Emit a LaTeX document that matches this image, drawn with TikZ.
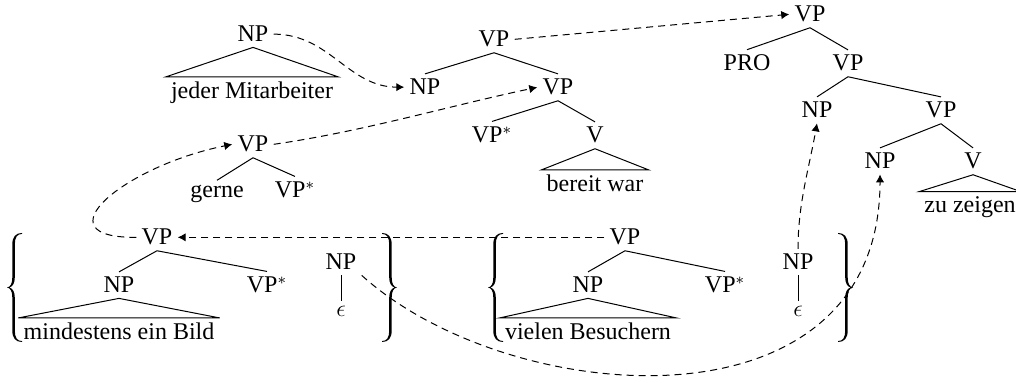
\documentclass[tikz,border=0pt]{standalone}
\usepackage{fontspec}
\setmainfont{Liberation Serif}
\usetikzlibrary{arrows.meta}
\begin{document}
\begin{tikzpicture}[x=0.5pt,y=-0.5pt,
  t/.style={anchor=base, inner sep=2.5pt, font=\fontsize{12}{14}\selectfont},
  tl/.style={line width=0.5pt},
  mv/.style={line width=0.5pt, dash pattern=on 3.5pt off 2.5pt, -{Latex[length=4pt,width=4.2pt]}},
  brc/.pic={\fill
    (7.5,-54.5) .. controls (1.5,-54.5) and (-2.2,-51) .. (-2.2,-43)
    -- (-2.2,-10) .. controls (-2.2,-3) and (-4.5,-0.5) .. (-7.5,0)
    .. controls (-4.5,0.5) and (-2.2,3) .. (-2.2,10)
    -- (-2.2,43) .. controls (-2.2,51) and (1.5,54.5) .. (7.5,54.5)
    -- (7.5,53.6) .. controls (2.5,53.6) and (0.3,50) .. (0.3,43)
    -- (0.3,10) .. controls (0.3,4) and (-2,1) .. (-5,0)
    .. controls (-2,-1) and (0.3,-4) .. (0.3,-10)
    -- (0.3,-43) .. controls (0.3,-50) and (2.5,-53.6) .. (7.5,-53.6) -- cycle;}]
\useasboundingbox (0,0) rectangle (1016,383);

% top-left NP
\node[t] (npA) at (253,42) {NP};
\node[t] (jeder) at (252,99) {jeder Mitarbeiter};
\draw[tl] (npA.south) -- (jeder.north east) -- (jeder.north west) -- cycle;

% middle tree
\node[t] (vpB) at (494,47) {VP};
\node[t] (npB) at (425,95) {NP};
\node[t] (vpC) at (558,95) {VP};
\node[t] (vpsC) at (492,143) {VP$^*$};
\node[t] (vC) at (595,143) {V};
\node[t] (bereit) at (595,192) {bereit war};
\draw[tl] (vpB.south) -- (npB.north);
\draw[tl] (vpB.south) -- (vpC.north);
\draw[tl] (vpC.south) -- (vpsC.north);
\draw[tl] (vpC.south) -- (vC.north);
\draw[tl] (vC.south) -- (bereit.north east) -- (bereit.north west) -- cycle;

% right tree
\node[t] (vpR) at (810,22) {VP};
\node[t] (pro) at (747,71) {PRO};
\node[t] (vpR2) at (848,71) {VP};
\node[t] (npR) at (817,118) {NP};
\node[t] (vpR3) at (941,118) {VP};
\node[t] (npR2) at (880,169) {NP};
\node[t] (vR) at (973,169) {V};
\node[t] (zu) at (970,213) {zu zeigen};
\draw[tl] (vpR.south) -- (pro.north);
\draw[tl] (vpR.south) -- (vpR2.north);
\draw[tl] (vpR2.south) -- (npR.north);
\draw[tl] (vpR2.south) -- (vpR3.north);
\draw[tl] (vpR3.south) -- (npR2.north);
\draw[tl] (vpR3.south) -- (vR.north);
\draw[tl] (vR.south) -- (zu.north east) -- (zu.north west) -- cycle;

% gerne tree
\node[t] (vpG) at (253,152) {VP};
\node[t] (gerne) at (217,198) {gerne};
\node[t] (vpsG) at (295,198) {VP$^*$};
\draw[tl] (vpG.south) -- (gerne.north);
\draw[tl] (vpG.south) -- (vpsG.north);

% bottom-left group
\pic at (14.5,287.5) {brc};
\pic[xscale=-1] at (389.5,287.5) {brc};
\node[t] (vpL) at (157,245) {VP};
\node[t] (npL) at (119,293) {NP};
\node[t] (vpsL) at (267,293) {VP$^*$};
\node[t] (mind) at (119,340) {mindestens ein Bild};
\draw[tl] (vpL.south) -- (npL.north);
\draw[tl] (vpL.south) -- (vpsL.north);
\draw[tl] (npL.south) -- (mind.north east) -- (mind.north west) -- cycle;
\node[t] (npE) at (341,270) {NP};
\node[t] (eps) at (341,317) {$\epsilon$};
\draw[tl] (npE.south) -- (eps.north);

% bottom-middle group
\pic at (495.5,287.5) {brc};
\pic[xscale=-1] at (845.5,287.5) {brc};
\node[t] (vpM) at (625,245) {VP};
\node[t] (npM) at (588,293) {NP};
\node[t] (vpsM) at (725,293) {VP$^*$};
\node[t] (viel) at (588,340) {vielen Besuchern};
\draw[tl] (vpM.south) -- (npM.north);
\draw[tl] (vpM.south) -- (vpsM.north);
\draw[tl] (npM.south) -- (viel.north east) -- (viel.north west) -- cycle;
\node[t] (npE2) at (798,270) {NP};
\node[t] (eps2) at (798,317) {$\epsilon$};
\draw[tl] (npE2.south) -- (eps2.north);

% dashed movement arrows
\draw[mv] (npA.east) .. controls +(56,0) and +(-56,0) .. (npB.west);
\draw[mv] (vpB.east) -- (vpR.west);
\draw[mv] (vpG.east) .. controls +(90,-13) and +(-90,19) .. (vpC.west);
\draw[mv] (vpM.west) -- (vpL.east);
\draw[mv] (vpL.west) .. controls +(-98,1) and +(-109,22) .. (vpG.west);
\draw[mv] (npE.south east) .. controls +(147,133) and +(0,264) .. (npR2.south);
\draw[mv] (npE2.north) .. controls +(0,-45) and +(-8,45) .. (npR.south);
\end{tikzpicture}
\end{document}
